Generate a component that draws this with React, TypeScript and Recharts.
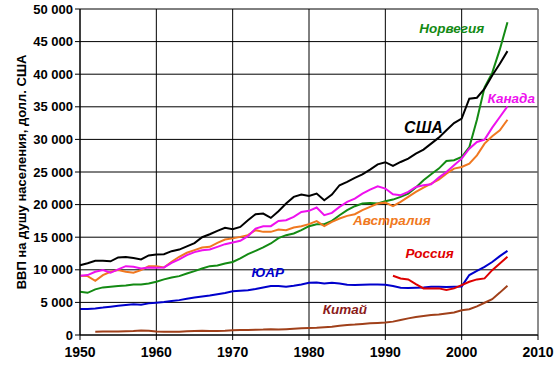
import React from "react";
import { LineChart, Line, XAxis, YAxis, CartesianGrid, ReferenceDot, ReferenceLine, Label } from "recharts";

const years: number[] = [];
for (let y = 1950; y <= 2006; y++) years.push(y);

const usa = [10700, 11000, 11380, 11400, 11300, 11900, 11950, 11800, 11590, 12200, 12350, 12400, 12860, 13100, 13600, 14100, 15000, 15450, 15970, 16430, 16230, 16580, 17600, 18530, 18630, 17960, 18990, 20160, 21180, 21540, 21330, 21690, 20670, 21540, 22970, 23480, 24090, 24650, 25370, 26180, 26500, 25930, 26540, 27050, 27820, 28430, 29350, 30270, 31390, 32510, 33180, 36240, 36390, 37770, 39810, 41600, 43540];
const norway = [6630, 6470, 7000, 7300, 7400, 7500, 7600, 7760, 7760, 7910, 8170, 8530, 8830, 9030, 9440, 9800, 10200, 10560, 10670, 10970, 11200, 11740, 12400, 12910, 13430, 14040, 14850, 15310, 15570, 16080, 16690, 17000, 17000, 17500, 18370, 19140, 19750, 20160, 20260, 20160, 20500, 20770, 21180, 21690, 22610, 23730, 24650, 25520, 26690, 26800, 27300, 28800, 33000, 38000, 40200, 43800, 47970];
const canada = [9080, 9190, 9700, 9950, 9540, 10060, 10560, 10460, 10210, 10360, 10310, 10360, 11070, 11590, 12250, 12710, 13010, 13120, 13520, 13930, 14200, 14440, 15160, 16330, 16690, 16690, 17500, 17610, 18120, 18880, 19040, 19550, 18370, 18730, 19650, 20410, 20920, 21690, 22300, 22810, 22460, 21590, 21440, 21940, 22710, 22970, 23120, 24140, 25010, 26030, 27050, 28580, 29600, 29960, 31800, 33430, 35060];
const australia = [9080, 9030, 8310, 9190, 9700, 9950, 9700, 9540, 9950, 10560, 10560, 10360, 11230, 12000, 12610, 13010, 13430, 13520, 14130, 14650, 14820, 15050, 15310, 16080, 15820, 15820, 16180, 16080, 16490, 16690, 17000, 17460, 16690, 17350, 17860, 18270, 18530, 19140, 19650, 20160, 20300, 19750, 20410, 21180, 21940, 22610, 23230, 23840, 24750, 25520, 25770, 26290, 27560, 29350, 30470, 31390, 33020];
const southAfrica = [3980, 4000, 4080, 4200, 4350, 4500, 4600, 4700, 4650, 4850, 4950, 5050, 5200, 5350, 5550, 5750, 5900, 6050, 6250, 6450, 6700, 6800, 6850, 7050, 7300, 7500, 7500, 7400, 7550, 7750, 8000, 8050, 7900, 8000, 7900, 7700, 7650, 7700, 7750, 7750, 7700, 7500, 7250, 7200, 7250, 7300, 7400, 7400, 7350, 7400, 7450, 9200, 9850, 10450, 11200, 12100, 12900];
const russia: (number | null)[] = [...Array(41).fill(null), 9080, 8680, 8530, 7810, 7150, 7150, 7150, 6890, 7150, 7660, 8170, 8530, 8680, 9950, 10970, 11990];
const china: (number | null)[] = [null, null, 500, 520, 530, 540, 580, 600, 680, 650, 530, 480, 480, 500, 560, 620, 650, 620, 610, 660, 740, 770, 780, 820, 830, 870, 860, 900, 960, 1020, 1060, 1100, 1180, 1270, 1420, 1530, 1600, 1700, 1800, 1850, 1900, 2050, 2300, 2550, 2750, 2900, 3050, 3150, 3300, 3450, 3800, 3950, 4400, 4950, 5500, 6500, 7550];

const xTicks = [1950, 1960, 1970, 1980, 1990, 2000, 2010];
const yTicks = [0, 5000, 10000, 15000, 20000, 25000, 30000, 35000, 40000, 45000, 50000];

const seriesLabels = [
  { name: "Норвегия", year: 1998.7, value: 47100, color: "#138a13", size: 13.5 },
  { name: "США", year: 1995.0, value: 31900, color: "#000000", size: 16 },
  { name: "Канада", year: 2006.5, value: 36300, color: "#ee11ee", size: 13.5 },
  { name: "Австралия", year: 1990.85, value: 17600, color: "#f07820", size: 13.5 },
  { name: "ЮАР", year: 1974.6, value: 9700, color: "#0000cc", size: 13.5 },
  { name: "Россия", year: 1995.8, value: 12600, color: "#e00000", size: 13.5 },
  { name: "Китай", year: 1984.7, value: 3900, color: "#8b1a1a", size: 13.5 },
];

const data = years.map((year, i) => ({
  year,
  usa: usa[i],
  norway: norway[i],
  canada: canada[i],
  australia: australia[i],
  southAfrica: southAfrica[i],
  russia: russia[i],
  china: china[i],
}));

const fmt = (v: number) => {
  if (v === 0) return "0";
  const s = String(v);
  return s.slice(0, s.length - 3) + " " + s.slice(s.length - 3);
};

const font = "'Liberation Sans', Arial, sans-serif";

export default function App() {
  return (
    <div style={{ position: "absolute", left: 0, top: 0, background: "#fff" }}>
      <LineChart width={559} height={367} data={data} margin={{ top: 9, right: 21, bottom: 2, left: 10 }}>
        <CartesianGrid stroke="#000" strokeWidth={1} horizontal vertical />
        <ReferenceLine x={2010} stroke="#9a9a9a" strokeWidth={1} />
        <XAxis
          dataKey="year"
          type="number"
          domain={[1950, 2010]}
          ticks={xTicks}
          height={30}
          stroke="#000"
          tickLine={{ stroke: "#000" }}
          tickSize={5}
          tickMargin={7}
          tick={{ fill: "#000", fontSize: 14, fontWeight: "bold", fontFamily: font }}
        />
        <YAxis
          type="number"
          domain={[0, 50000]}
          ticks={yTicks}
          width={70}
          stroke="#000"
          tickSize={5}
          tickFormatter={fmt}
          tick={{ fill: "#000", fontSize: 13, fontWeight: "bold", fontFamily: font }}
        >
          <Label
            content={() => (
              <text
                x={21}
                y={172}
                transform="rotate(-90 21 172)"
                textAnchor="middle"
                dominantBaseline="central"
                style={{ fontSize: 13, fontWeight: "bold", fontFamily: font, fill: "#000" }}
              >
                ВВП на душу населения, долл. США
              </text>
            )}
          />
        </YAxis>
        <Line dataKey="china" stroke="#a0401a" strokeWidth={2} dot={false} isAnimationActive={false} connectNulls={false} />
        <Line dataKey="southAfrica" stroke="#0000cc" strokeWidth={2} dot={false} isAnimationActive={false} />
        <Line dataKey="russia" stroke="#dd0000" strokeWidth={2} dot={false} isAnimationActive={false} connectNulls={false} />
        <Line dataKey="norway" stroke="#138a13" strokeWidth={2} dot={false} isAnimationActive={false} />
        <Line dataKey="australia" stroke="#f07820" strokeWidth={2} dot={false} isAnimationActive={false} />
        <Line dataKey="canada" stroke="#ee11ee" strokeWidth={2} dot={false} isAnimationActive={false} />
        <Line dataKey="usa" stroke="#000000" strokeWidth={2} dot={false} isAnimationActive={false} />
        {seriesLabels.map((l) => (
          <ReferenceDot
            key={l.name}
            x={l.year}
            y={l.value}
            r={0}
            fill="none"
            stroke="none"
            label={{
              value: l.name,
              position: "center",
              fill: l.color,
              fontSize: l.size,
              fontWeight: "bold",
              fontStyle: "italic",
              fontFamily: font,
            }}
          />
        ))}
      </LineChart>
    </div>
  );
}
